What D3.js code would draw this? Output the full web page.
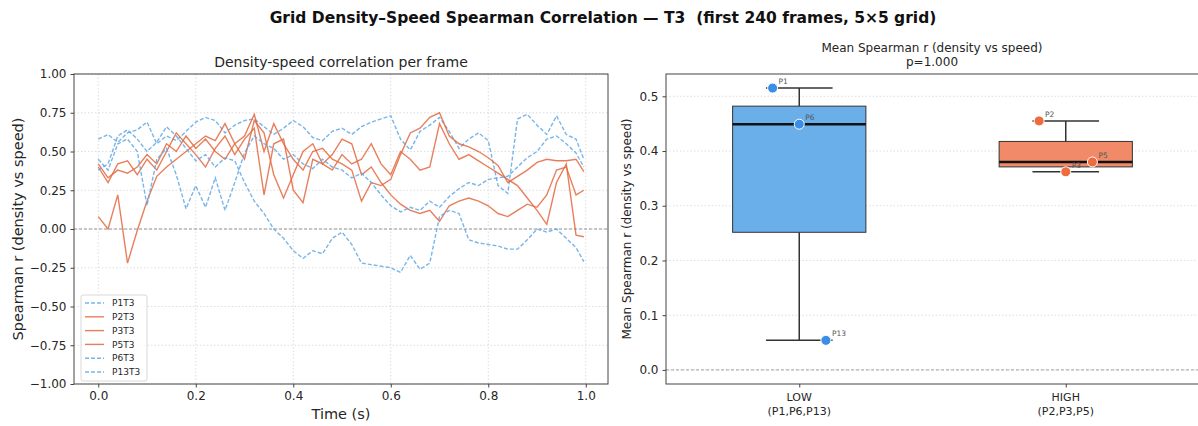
<!DOCTYPE html>
<html><head><meta charset="utf-8">
<script src="https://cdn.jsdelivr.net/npm/d3@7"></script>
<style>body{margin:0;background:#fff} svg{display:block} text{font-family:"DejaVu Sans",sans-serif;white-space:pre}</style>
</head><body><svg id="c" width="1198" height="426"></svg>
<script>
const times=[0,0.02,0.04,0.06,0.08,0.10,0.12,0.14,0.16,0.18,0.20,0.22,0.24,0.26,0.28,0.30,0.32,0.34,0.36,0.38,0.40,0.42,0.44,0.46,0.48,0.50,0.52,0.54,0.56,0.58,0.60,0.62,0.64,0.66,0.68,0.70,0.72,0.74,0.76,0.78,0.80,0.82,0.84,0.86,0.88,0.90,0.92,0.94,0.96,0.98,0.996];
const p1t3=[0.58,0.61,0.56,0.62,0.64,0.69,0.55,0.60,0.57,0.63,0.69,0.72,0.70,0.62,0.67,0.70,0.71,0.66,0.61,0.65,0.70,0.66,0.59,0.57,0.63,0.65,0.61,0.66,0.69,0.71,0.73,0.58,0.51,0.63,0.67,0.72,0.63,0.52,0.58,0.62,0.57,0.28,0.23,0.71,0.74,0.67,0.61,0.73,0.61,0.58,0.45];
const p2t3=[0.42,0.33,0.38,0.36,0.40,0.48,0.42,0.55,0.50,0.60,0.52,0.58,0.50,0.45,0.55,0.60,0.74,0.50,0.68,0.55,0.45,0.38,0.50,0.52,0.45,0.42,0.38,0.18,0.30,0.28,0.32,0.48,0.62,0.65,0.72,0.75,0.60,0.55,0.53,0.50,0.46,0.41,0.30,0.34,0.38,0.43,0.45,0.44,0.44,0.45,0.37];
const p3t3=[0.08,0.00,0.22,-0.22,-0.01,0.18,0.34,0.40,0.45,0.50,0.55,0.60,0.57,0.68,0.55,0.45,0.70,0.62,0.35,0.20,0.35,0.50,0.55,0.42,0.48,0.58,0.55,0.35,0.40,0.30,0.22,0.16,0.12,0.10,0.12,0.05,0.15,0.18,0.20,0.18,0.15,0.10,0.08,0.12,0.16,0.14,0.22,0.38,0.40,0.22,0.25];
const p5t3=[0.40,0.30,0.42,0.44,0.35,0.45,0.38,0.50,0.62,0.55,0.48,0.40,0.52,0.60,0.48,0.58,0.65,0.22,0.55,0.58,0.25,0.17,0.45,0.42,0.38,0.48,0.42,0.45,0.55,0.42,0.35,0.50,0.45,0.38,0.40,0.68,0.55,0.45,0.48,0.44,0.40,0.36,0.32,0.28,0.20,0.12,0.03,0.30,0.42,-0.04,-0.05];
const p6t3=[0.45,0.38,0.55,0.58,0.50,0.15,0.45,0.52,0.35,0.13,0.28,0.14,0.33,0.12,0.30,0.49,0.60,0.55,0.52,0.45,0.48,0.42,0.39,0.45,0.40,0.38,0.33,0.36,0.30,0.22,0.15,0.11,0.14,0.12,0.18,0.14,0.21,0.26,0.30,0.28,0.32,0.33,0.34,0.40,0.46,0.50,0.58,0.60,0.55,0.49,0.40];
const p13t3=[0.38,0.42,0.60,0.64,0.58,0.50,0.56,0.66,0.60,0.52,0.44,0.48,0.40,0.46,0.44,0.30,0.18,0.10,0.00,-0.06,-0.14,-0.19,-0.14,-0.16,-0.06,-0.02,-0.10,-0.22,-0.23,-0.24,-0.25,-0.28,-0.17,-0.26,-0.22,0.08,0.12,0.10,-0.07,-0.09,-0.10,-0.11,-0.13,-0.13,-0.07,0.00,-0.02,0.00,-0.06,-0.12,-0.21];
const seriesNames=["P1T3","P2T3","P3T3","P5T3","P6T3","P13T3"];
const seriesGroup=["LOW","HIGH","HIGH","HIGH","LOW","LOW"];
const seriesValues=[p1t3,p2t3,p3t3,p5t3,p6t3,p13t3];
const leftXTicks=[0,0.2,0.4,0.6,0.8,1.0];
const leftYTicks=[-1,-0.75,-0.5,-0.25,0,0.25,0.5,0.75,1];
const rightYTicks=[0,0.1,0.2,0.3,0.4,0.5];
const groups=["LOW","HIGH"];
const groupSub=["(P1,P6,P13)","(P2,P3,P5)"];
const lowNames=["P1","P6","P13"];
const lowMeans=[0.515,0.449,0.054];
const highNames=["P2","P3","P5"];
const highMeans=[0.455,0.362,0.380];

const svg=d3.select("#c");
const BLUE_LINE="#5fa8e6", ORANGE_LINE="#e4683f";
const BOX_FILL={LOW:"#6aaeea",HIGH:"#f08a68"};
const PT={LOW:"#3a8ee6",HIGH:"#ee6b3d"};
const TXT="#262626", SPINE="#444", GRID="#d6d6d6";

svg.append("text").attr("x",603).attr("y",23).attr("text-anchor","middle")
  .attr("font-size",15.5).attr("font-weight","bold").attr("fill","#111")
  .text("Grid Density–Speed Spearman Correlation — T3  (first 240 frames, 5×5 grid)");

// ---------- left panel ----------
const L={l:74,r:608,t:74,b:384};
const x=d3.scaleLinear([-0.0498,1.0456],[L.l,L.r]);
const y=d3.scaleLinear([-1,1],[L.b,L.t]);
const gl=svg.append("g");
gl.append("g").selectAll("line").data(leftXTicks).join("line")
  .attr("x1",d=>x(d)).attr("x2",d=>x(d)).attr("y1",L.t).attr("y2",L.b)
  .attr("stroke",GRID).attr("stroke-width",0.8).attr("stroke-dasharray","1.5,2");
gl.append("g").selectAll("line").data(leftYTicks).join("line")
  .attr("x1",L.l).attr("x2",L.r).attr("y1",d=>y(d)).attr("y2",d=>y(d))
  .attr("stroke",GRID).attr("stroke-width",0.8).attr("stroke-dasharray","1.5,2");
gl.append("line").attr("x1",L.l).attr("x2",L.r).attr("y1",y(0)).attr("y2",y(0))
  .attr("stroke","#888").attr("stroke-width",0.9).attr("stroke-dasharray","3,2");
const line=d3.line().x((d,i)=>x(times[i])).y(d=>y(d));
seriesValues.forEach((vals,k)=>{
  const low=seriesGroup[k]==="LOW";
  gl.append("path").attr("d",line(vals)).attr("fill","none")
    .attr("stroke",low?BLUE_LINE:ORANGE_LINE).attr("stroke-width",1.4)
    .attr("stroke-opacity",0.85).attr("stroke-dasharray",low?"4,2":null);
});
gl.append("rect").attr("x",L.l).attr("y",L.t).attr("width",L.r-L.l).attr("height",L.b-L.t)
  .attr("fill","none").attr("stroke",SPINE).attr("stroke-width",1);
const ax=gl.append("g").attr("transform",`translate(0,${L.b})`)
  .call(d3.axisBottom(x).tickValues(leftXTicks).tickFormat(d3.format(".1f")).tickSize(3.5).tickPadding(4));
const ay=gl.append("g").attr("transform",`translate(${L.l},0)`)
  .call(d3.axisLeft(y).tickValues(leftYTicks).tickFormat(d3.format(".2f")).tickSize(3.5).tickPadding(4));
[ax,ay].forEach(a=>{a.select(".domain").remove();a.selectAll("line").attr("stroke",SPINE);
  a.selectAll("text").attr("font-size",12).attr("fill",TXT).attr("font-family","DejaVu Sans");});
gl.append("text").attr("x",(L.l+L.r)/2).attr("y",67).attr("text-anchor","middle")
  .attr("font-size",14).attr("fill",TXT).text("Density-speed correlation per frame");
gl.append("text").attr("x",(L.l+L.r)/2).attr("y",419).attr("text-anchor","middle")
  .attr("font-size",14.5).attr("fill",TXT).text("Time (s)");
gl.append("text").attr("transform",`translate(23,${(L.t+L.b)/2}) rotate(-90)`).attr("text-anchor","middle")
  .attr("font-size",14.5).attr("fill",TXT).text("Spearman r (density vs speed)");
// legend
const lg=gl.append("g");
lg.append("rect").attr("x",81).attr("y",295).attr("width",66).attr("height",86).attr("rx",2)
  .attr("fill","#fff").attr("fill-opacity",0.8).attr("stroke","#cfcfcf").attr("stroke-width",0.8);
seriesNames.forEach((n,k)=>{
  const low=seriesGroup[k]==="LOW", yy=303+k*13.8;
  lg.append("line").attr("x1",85).attr("x2",104).attr("y1",yy).attr("y2",yy)
    .attr("stroke",low?BLUE_LINE:ORANGE_LINE).attr("stroke-width",1.4).attr("stroke-opacity",0.85)
    .attr("stroke-dasharray",low?"4,2":null);
  lg.append("text").attr("x",112).attr("y",yy+3.2).attr("font-size",9).attr("fill",TXT).text(n);
});

// ---------- right panel ----------
const R={l:666,r:1199,t:74,b:384};
const xr=d3.scaleLinear([0.5,2.5],[R.l,R.r]);
const yr=d3.scaleLinear([-0.02575,0.54075],[R.b,R.t]);
const gr=svg.append("g");
gr.append("g").selectAll("line").data(rightYTicks).join("line")
  .attr("x1",R.l).attr("x2",R.r).attr("y1",d=>yr(d)).attr("y2",d=>yr(d))
  .attr("stroke",GRID).attr("stroke-width",0.8).attr("stroke-dasharray","1.5,2");
gr.append("line").attr("x1",R.l).attr("x2",R.r).attr("y1",yr(0)).attr("y2",yr(0))
  .attr("stroke","#999").attr("stroke-width",0.9).attr("stroke-dasharray","3,2");
const groupData=[{g:"LOW",names:lowNames,vals:lowMeans},{g:"HIGH",names:highNames,vals:highMeans}];
groupData.forEach((G,gi)=>{
  const pos=gi+1, s=G.vals.slice().sort(d3.ascending);
  const q1=d3.quantile(s,0.25), med=d3.quantile(s,0.5), q3=d3.quantile(s,0.75), iqr=q3-q1;
  const lo=d3.min(s.filter(v=>v>=q1-1.5*iqr)), hi=d3.max(s.filter(v=>v<=q3+1.5*iqr));
  const hw=0.25, cw=0.125;
  gr.append("line").attr("x1",xr(pos)).attr("x2",xr(pos)).attr("y1",yr(q3)).attr("y2",yr(hi)).attr("stroke","#333").attr("stroke-width",1.5);
  gr.append("line").attr("x1",xr(pos)).attr("x2",xr(pos)).attr("y1",yr(q1)).attr("y2",yr(lo)).attr("stroke","#333").attr("stroke-width",1.5);
  [lo,hi].forEach(v=>gr.append("line").attr("x1",xr(pos-cw)).attr("x2",xr(pos+cw)).attr("y1",yr(v)).attr("y2",yr(v)).attr("stroke","#333").attr("stroke-width",1.5));
  gr.append("rect").attr("x",xr(pos-hw)).attr("y",yr(q3)).attr("width",xr(pos+hw)-xr(pos-hw)).attr("height",yr(q1)-yr(q3))
    .attr("fill",BOX_FILL[G.g]).attr("stroke","#333").attr("stroke-width",1);
  gr.append("line").attr("x1",xr(pos-hw)).attr("x2",xr(pos+hw)).attr("y1",yr(med)).attr("y2",yr(med)).attr("stroke","#111").attr("stroke-width",2.5);
  const offs=[-0.1,0,0.1];
  G.vals.forEach((v,i)=>{
    const px=xr(pos+offs[i]), py=yr(v);
    gr.append("circle").attr("cx",px).attr("cy",py).attr("r",5).attr("fill",PT[G.g]).attr("stroke","#fff").attr("stroke-width",1);
    gr.append("text").attr("x",px+6).attr("y",py-4).attr("font-size",7.5).attr("fill","#555").text(G.names[i]);
  });
});
gr.append("rect").attr("x",R.l).attr("y",R.t).attr("width",R.r-R.l).attr("height",R.b-R.t)
  .attr("fill","none").attr("stroke",SPINE).attr("stroke-width",1);
const ayr=gr.append("g").attr("transform",`translate(${R.l},0)`)
  .call(d3.axisLeft(yr).tickValues(rightYTicks).tickFormat(d3.format(".1f")).tickSize(3.5).tickPadding(4));
const axr=gr.append("g").attr("transform",`translate(0,${R.b})`)
  .call(d3.axisBottom(xr).tickValues([1,2]).tickFormat("").tickSize(3.5));
[ayr,axr].forEach(a=>{a.select(".domain").remove();a.selectAll("line").attr("stroke",SPINE);
  a.selectAll("text").attr("font-size",12).attr("fill",TXT).attr("font-family","DejaVu Sans");});
groups.forEach((g,i)=>{
  gr.append("text").attr("x",xr(i+1)).attr("y",401).attr("text-anchor","middle").attr("font-size",11).attr("fill",TXT).text(g);
  gr.append("text").attr("x",xr(i+1)).attr("y",415).attr("text-anchor","middle").attr("font-size",11).attr("fill",TXT).text(groupSub[i]);
});
gr.append("text").attr("x",932).attr("y",52).attr("text-anchor","middle").attr("font-size",12).attr("fill",TXT).text("Mean Spearman r (density vs speed)");
gr.append("text").attr("x",932).attr("y",66).attr("text-anchor","middle").attr("font-size",12).attr("fill",TXT).text("p=1.000");
gr.append("text").attr("transform",`translate(631,${(R.t+R.b)/2}) rotate(-90)`).attr("text-anchor","middle")
  .attr("font-size",12).attr("fill",TXT).text("Mean Spearman r (density vs speed)");
</script></body></html>
